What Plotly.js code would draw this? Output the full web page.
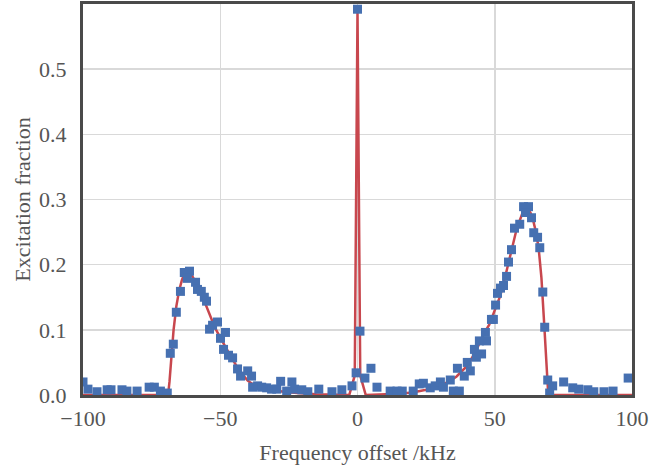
<!DOCTYPE html>
<html>
<head>
<meta charset="utf-8">
<script src="https://cdn.plot.ly/plotly-3.0.1.min.js"></script>
<style>html,body{margin:0;padding:0;background:#fff;}#chart{width:649px;height:470px;}</style>
</head>
<body>
<div id="chart"></div>
<script>
// Measured data points
const dataX = [-100,-98.2,-94.9,-91.2,-89.8,-85.8,-84.0,-80.3,-75.9,-74.0,-71.8,-69.3,-68.2,-67.1,-66.0,-64.5,-63.1,-61.2,-62.0,-59.0,-58.3,-56.9,-55.8,-55.0,-53.9,-52.8,-51.0,-49.9,-48.1,-48.8,-47.0,-45.5,-43.7,-42.6,-40.0,-38.6,-38.2,-36.4,-34.9,-33.1,-31.3,-29.4,-28.0,-25.8,-23.9,-22.9,-20.3,-18.1,-14.1,-9.3,-5.7,-2.0,-0.5,0,0.9,2.7,4.9,7.1,11.9,14.4,16.3,20.3,22.5,24.0,26.5,28.3,30.2,31.3,33.8,34.9,37.1,36.4,38.9,40.0,41.1,42.6,43.3,45.2,44.4,47.0,46.6,48.8,49.5,50.3,51.0,52.1,53.2,54.3,55.0,56.1,57.2,59.1,60.5,62.3,61.2,63.4,64.2,65.6,66.4,67.5,68.2,69.3,71.1,70.0,75.1,78.4,80.6,83.9,86.1,89.8,93.1,98.6];
const dataY = [0.020,0.009,0.005,0.008,0.008,0.008,0.006,0.006,0.012,0.012,0.006,0.003,0.064,0.078,0.127,0.159,0.188,0.190,0.179,0.173,0.162,0.159,0.150,0.144,0.101,0.107,0.112,0.087,0.096,0.070,0.061,0.057,0.040,0.029,0.037,0.029,0.012,0.014,0.012,0.011,0.009,0.009,0.021,0.006,0.020,0.009,0.008,0.005,0.009,0.005,0.008,0.014,0.034,0.592,0.098,0.026,0.041,0.012,0.006,0.006,0.006,0.006,0.017,0.018,0.011,0.014,0.020,0.012,0.023,0.006,0.006,0.041,0.029,0.050,0.037,0.070,0.058,0.063,0.083,0.083,0.096,0.116,0.116,0.138,0.156,0.164,0.168,0.182,0.204,0.223,0.256,0.262,0.289,0.289,0.280,0.272,0.249,0.242,0.226,0.158,0.104,0.023,0.014,0.003,0.020,0.011,0.009,0.008,0.005,0.005,0.006,0.026];

// Fit curve
const fitX = [-100,-69,-68.5,-68,-67,-66,-65,-64,-63,-62,-61,-60,-58,-56,-54,-52,-50,-48,-46,-44,-42,-40,-38,-35,-30,-27,-22,-15,-3,-1,0,1,3,10,15,20,25,30,33,36,40,43,46,48,50,52,54,56,58,60,61,62,63,64,65,66,67,68,69,69.5,100];
const fitY = [0,0,0.02,0.05,0.10,0.136,0.16,0.176,0.187,0.190,0.188,0.181,0.166,0.146,0.124,0.104,0.088,0.072,0.058,0.044,0.032,0.022,0.016,0.011,0.007,0.005,0.003,0.001,0,0.03,0.59,0.03,0,0.001,0.002,0.004,0.008,0.014,0.020,0.028,0.045,0.066,0.094,0.108,0.130,0.152,0.185,0.222,0.255,0.278,0.285,0.285,0.280,0.268,0.250,0.225,0.180,0.110,0.030,0,0];

const xTicks = [-100,-50,0,50,100];
const yTicks = [0,0.1,0.2,0.3,0.4,0.5];

const font = {family: '"Liberation Serif", "DejaVu Serif", serif', size: 22, color: '#555555'};

Plotly.newPlot('chart', [
  {x: fitX, y: fitY, mode: 'lines', line: {color: '#c8474e', width: 2.5}, hoverinfo: 'skip'},
  {x: dataX, y: dataY, mode: 'markers', marker: {symbol: 'square', size: 9, color: '#4670b1'}}
], {
  width: 649, height: 470,
  margin: {l: 83, r: 17, t: 4, b: 75},
  paper_bgcolor: '#fff', plot_bgcolor: '#fff',
  showlegend: false,
  font: font,
  xaxis: {
    range: [-100, 100], tickvals: xTicks, ticks: '', zeroline: false,
    showgrid: true, gridcolor: '#d9d9d9', gridwidth: 1.5,
    showline: true, mirror: true, linecolor: '#4a4a4a', linewidth: 3,
    tickfont: font, ticklabelstandoff: 2,
    title: {text: 'Frequency offset /kHz', font: font, standoff: 15}
  },
  yaxis: {
    range: [0, 0.6], tickvals: yTicks, tickformat: '.1f', ticks: '', zeroline: false,
    showgrid: true, gridcolor: '#d9d9d9', gridwidth: 1.5,
    showline: true, mirror: true, linecolor: '#4a4a4a', linewidth: 3,
    tickfont: font, ticklabelstandoff: 9,
    title: {text: 'Excitation fraction', font: font, standoff: 3}
  }
}, {displayModeBar: false, staticPlot: true});
</script>
</body>
</html>
